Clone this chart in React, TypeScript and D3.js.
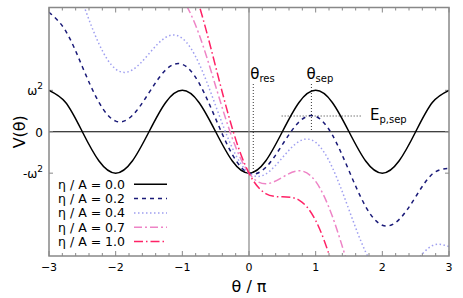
import React, { useRef, useEffect } from 'react';
import * as d3 from 'd3';

// theta / pi sample positions
const thetaPi = [-3, -2.75, -2.5, -2.25, -2, -1.75, -1.5, -1.25, -1, -0.75, -0.5, -0.25, 0,
  0.25, 0.5, 0.75, 1, 1.25, 1.5, 1.75, 2, 2.25, 2.5, 2.75, 3];

// V(theta) in units of omega^2
const v00 = [1, 0.707, 0, -0.707, -1, -0.707, 0, 0.707, 1, 0.707, 0, -0.707, -1,
  -0.707, 0, 0.707, 1, 0.707, 0, -0.707, -1, -0.707, 0, 0.707, 1];
const v02 = [2.885, 2.435, 1.571, 0.707, 0.257, 0.393, 0.942, 1.492, 1.628, 1.178, 0.314, -0.55, -1,
  -0.864, -0.314, 0.236, 0.372, -0.078, -0.942, -1.807, -2.257, -2.121, -1.571, -1.021, -0.885];
const v04 = [4.77, 4.163, 3.142, 2.12, 1.513, 1.492, 1.885, 2.278, 2.257, 1.649, 0.628, -0.393, -1,
  -1.021, -0.628, -0.235, -0.257, -0.864, -1.885, -2.906, -3.513, -3.534, -3.142, -2.749, -2.77];
const v07 = [7.597, 6.755, 5.498, 4.241, 3.398, 3.141, 3.299, 3.456, 3.199, 2.356, 1.1, -0.157, -1,
  -1.257, -1.1, -0.942, -1.199, -2.042, -3.299, -4.555, -5.398, -5.655, -5.498, -5.341, -5.597];
const v10 = [10.425, 9.346, 7.854, 6.362, 5.283, 4.791, 4.712, 4.634, 4.142, 3.063, 1.571, 0.078, -1,
  -1.492, -1.571, -1.649, -2.142, -3.22, -4.712, -6.205, -7.283, -7.776, -7.854, -7.932, -8.425];

const seriesLabels = ['η / A = 0.0', 'η / A = 0.2', 'η / A = 0.4', 'η / A = 0.7', 'η / A = 1.0'];
const seriesValues = [v00, v02, v04, v07, v10];
const seriesColors = ['#000000', '#1a1a78', '#9f9ff0', '#ee84c6', '#ff2266'];
const seriesDash = [null, '4,4', '1.5,2.5', '8,3,2,3', '9,3,1.5,3'];

const xTicks = [-3, -2, -1, 0, 1, 2, 3];
const yTicks = [-1, 0, 1];
const yTickLabels = ['-ω', '0', 'ω'];

const thetaRes = 0.064;
const thetaSep = 0.936;
const epSep = 0.38;

const App = () => {
  const svgRef = useRef(null);

  useEffect(() => {
    const svg = d3.select(svgRef.current);
    svg.selectAll('*').remove();
    const width = 463;
    const height = 298;
    const margin = { top: 7.5, right: 14, bottom: 42, left: 49 };
    const font = 'DejaVu Sans, sans-serif';

    const x = d3.scaleLinear().domain([-3, 3]).range([margin.left, width - margin.right]);
    const y = d3.scaleLinear().domain([-3, 3]).range([height - margin.bottom, margin.top]);

    svg.append('defs').append('clipPath').attr('id', 'plotclip')
      .append('rect')
      .attr('x', x(-3)).attr('y', y(3))
      .attr('width', x(3) - x(-3)).attr('height', y(-3) - y(3));

    // zero lines
    svg.append('line')
      .attr('x1', x(-3)).attr('x2', x(3)).attr('y1', y(0)).attr('y2', y(0))
      .attr('stroke', '#000').attr('stroke-width', 1);
    svg.append('line')
      .attr('x1', x(0)).attr('x2', x(0)).attr('y1', y(3)).attr('y2', y(-3))
      .attr('stroke', '#888').attr('stroke-width', 1.2);

    // ticks (inward, top & bottom, left & right)
    const minor = d3.range(-3, 3.001, 0.2);
    const tg = svg.append('g').attr('stroke', '#888').attr('stroke-width', 1);
    minor.forEach(t => {
      const isMajor = Math.abs(t - Math.round(t)) < 1e-6;
      const len = isMajor ? 5 : 3;
      tg.append('line').attr('x1', x(t)).attr('x2', x(t)).attr('y1', y(-3)).attr('y2', y(-3) - len);
      tg.append('line').attr('x1', x(t)).attr('x2', x(t)).attr('y1', y(3)).attr('y2', y(3) + len);
    });
    yTicks.forEach(t => {
      tg.append('line').attr('x1', x(-3)).attr('x2', x(-3) + 4).attr('y1', y(t)).attr('y2', y(t));
      tg.append('line').attr('x1', x(3)).attr('x2', x(3) - 4).attr('y1', y(t)).attr('y2', y(t));
    });

    // curves
    const line = d3.line<number>()
      .x((d, i) => x(thetaPi[i]))
      .y(d => y(d))
      .curve(d3.curveNatural);

    const cg = svg.append('g').attr('clip-path', 'url(#plotclip)');
    seriesValues.forEach((vals, k) => {
      cg.append('path')
        .attr('d', line(vals))
        .attr('fill', 'none')
        .attr('stroke', seriesColors[k])
        .attr('stroke-width', 1.5)
        .attr('stroke-dasharray', seriesDash[k]);
    });

    // annotation dotted lines
    const dot = { stroke: '#000', w: 0.8, dash: '1,2' };
    svg.append('line')
      .attr('x1', x(thetaRes)).attr('x2', x(thetaRes)).attr('y1', 84).attr('y2', y(-1))
      .attr('stroke', dot.stroke).attr('stroke-width', dot.w).attr('stroke-dasharray', dot.dash);
    svg.append('line')
      .attr('x1', x(thetaSep)).attr('x2', x(thetaSep)).attr('y1', 84).attr('y2', y(0))
      .attr('stroke', dot.stroke).attr('stroke-width', dot.w).attr('stroke-dasharray', dot.dash);
    svg.append('line')
      .attr('x1', x(0.49)).attr('x2', x(1.7)).attr('y1', y(epSep)).attr('y2', y(epSep))
      .attr('stroke', dot.stroke).attr('stroke-width', dot.w).attr('stroke-dasharray', dot.dash);

    const addSub = (px, py, main, sub) => {
      const t = svg.append('text').attr('x', px).attr('y', py)
        .attr('font-family', font).attr('font-size', 15).attr('fill', '#000');
      t.append('tspan').text(main);
      t.append('tspan').attr('dy', 3).attr('font-size', 10).text(sub);
    };
    addSub(x(thetaRes) - 3, 79, 'θ', 'res');
    addSub(x(thetaSep) - 5, 79, 'θ', 'sep');
    addSub(370, 120, 'E', 'p,sep');

    // frame
    svg.append('rect')
      .attr('x', x(-3)).attr('y', y(3))
      .attr('width', x(3) - x(-3)).attr('height', y(-3) - y(3))
      .attr('fill', 'none').attr('stroke', '#888').attr('stroke-width', 1.5);

    // x tick labels
    xTicks.forEach(t => {
      svg.append('text')
        .attr('x', x(t)).attr('y', 271)
        .attr('text-anchor', 'middle')
        .attr('font-family', font).attr('font-size', 11)
        .text(d3.format('d')(t));
    });
    // y tick labels
    yTicks.forEach((t, i) => {
      const tx = svg.append('text')
        .attr('x', 43).attr('y', y(t) + 5)
        .attr('text-anchor', 'end')
        .attr('font-family', font).attr('font-size', 12);
      tx.append('tspan').text(yTickLabels[i]);
      if (t !== 0) tx.append('tspan').attr('dy', -6).attr('font-size', 9).text('2');
    });

    // axis titles
    svg.append('text')
      .attr('x', x(0)).attr('y', 292)
      .attr('text-anchor', 'middle')
      .attr('font-family', font).attr('font-size', 16)
      .text('θ / π');
    svg.append('text')
      .attr('transform', `translate(25,${y(0)}) rotate(-90)`)
      .attr('text-anchor', 'middle')
      .attr('font-family', font).attr('font-size', 16)
      .text('V(θ)');

    // legend
    const rowY = [184.3, 198.6, 212.9, 227.2, 241.5];
    seriesLabels.forEach((lab, k) => {
      svg.append('text')
        .attr('x', 125).attr('y', rowY[k] + 4.5)
        .attr('text-anchor', 'end')
        .attr('font-family', font).attr('font-size', 12.5)
        .text(lab);
      svg.append('line')
        .attr('x1', 134).attr('x2', 167).attr('y1', rowY[k]).attr('y2', rowY[k])
        .attr('stroke', seriesColors[k]).attr('stroke-width', 1.5)
        .attr('stroke-dasharray', seriesDash[k]);
    });
  }, []);

  return <svg ref={svgRef} width={463} height={298} style={{ position: 'absolute', left: 0, top: 0 }}></svg>;
};

export default App;
